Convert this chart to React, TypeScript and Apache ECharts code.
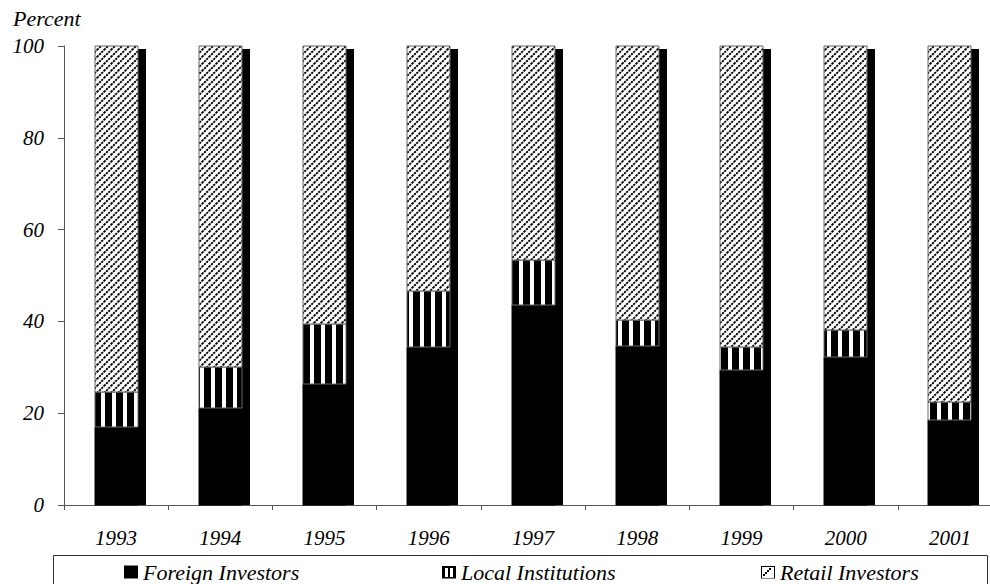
import React, { useEffect, useRef } from "react";
import * as echarts from "echarts";

const years = ["1993", "1994", "1995", "1996", "1997", "1998", "1999", "2000", "2001"];
const foreign = [17.0, 21.1, 26.4, 34.4, 43.6, 34.6, 29.4, 32.2, 18.5];
const local = [7.6, 9.0, 13.0, 12.3, 9.8, 5.7, 5.0, 5.9, 4.0];
const retail = [75.4, 69.9, 60.6, 53.3, 46.6, 59.7, 65.6, 61.9, 77.5];
const seriesNames = ["Foreign Investors", "Local Institutions", "Retail Investors"];

const FONT = '"Liberation Serif", "Times New Roman", serif';

const svgUrl = (s: string) => "data:image/svg+xml;charset=utf-8," + encodeURIComponent(s);

const HATCH = 7;
const hatchUrl = svgUrl(
  '<svg xmlns="http://www.w3.org/2000/svg" width="7" height="7">' +
    '<rect width="7" height="7" fill="#fff"/>' +
    '<g stroke="#000" stroke-width="1.9" stroke-dasharray="2.2 0.9">' +
    '<path d="M-1,8 L8,-1"/>' +
    '<path d="M-1,1 L1,-1"/>' +
    '<path d="M6,8 L8,6"/>' +
    "</g>" +
    "</svg>"
);
const stripeUrl = svgUrl(
  '<svg xmlns="http://www.w3.org/2000/svg" width="11" height="11" shape-rendering="crispEdges">' +
    '<rect width="11" height="11" fill="#000"/>' +
    '<rect x="2" y="0" width="4" height="11" fill="#fff"/>' +
    "</svg>"
);
const localIcon =
  "image://" +
  svgUrl(
    '<svg xmlns="http://www.w3.org/2000/svg" width="14" height="13" shape-rendering="crispEdges">' +
      '<rect width="14" height="13" fill="#000"/>' +
      '<rect x="3" y="2" width="3" height="9" fill="#fff"/>' +
      '<rect x="8" y="2" width="3" height="9" fill="#fff"/>' +
      "</svg>"
  );
const retailIcon =
  "image://" +
  svgUrl(
    '<svg xmlns="http://www.w3.org/2000/svg" width="14" height="13" shape-rendering="crispEdges">' +
      '<rect x="0.5" y="0.5" width="13" height="12" fill="#fff" stroke="#000"/>' +
      '<rect x="2" y="8" width="2" height="2" fill="#000"/>' +
      '<rect x="4" y="6" width="2" height="2" fill="#000"/>' +
      '<rect x="6" y="4" width="2" height="2" fill="#000"/>' +
      '<rect x="8" y="2" width="2" height="2" fill="#000"/>' +
      "</svg>"
  );

const BAR_RATIO = 43 / 104;
const SHADOW_DX = 8;
const SHADOW_DY = 3;

function makeFill(kind: string, x: number, y: number): any {
  if (kind === "solid") return "#000";
  if (kind === "hatch")
    return { image: hatchUrl, repeat: "repeat", imageWidth: HATCH, imageHeight: HATCH, x, y };
  return { image: stripeUrl, repeat: "repeat", imageWidth: 11, imageHeight: 11, x, y: 0 };
}

function segmentRender(kind: string) {
  return (params: any, api: any) => {
    const idx = api.value(0);
    const p0 = api.coord([idx, api.value(1)]);
    const p1 = api.coord([idx, api.value(2)]);
    const bandW = api.size([1, 0])[0];
    const w = Math.round(bandW * BAR_RATIO);
    const x = Math.round(p0[0] - w / 2);
    const yTop = Math.round(p1[1]);
    const yBot = Math.round(p0[1]);
    return {
      type: "rect",
      shape: { x, y: yTop, width: w, height: yBot - yTop },
      style: {
        fill: makeFill(kind, x, yTop),
        stroke: kind === "solid" ? "#000" : "#666",
        lineWidth: 1,
      },
    };
  };
}

function shadowRender(params: any, api: any) {
  const idx = api.value(0);
  const p0 = api.coord([idx, api.value(1)]);
  const p1 = api.coord([idx, api.value(2)]);
  const bandW = api.size([1, 0])[0];
  const w = Math.round(bandW * BAR_RATIO);
  const x = Math.round(p0[0] - w / 2) + w;
  const yTop = Math.round(p1[1]) + SHADOW_DY;
  const yBot = Math.round(p0[1]);
  return {
    type: "rect",
    shape: { x, y: yTop, width: SHADOW_DX, height: yBot - yTop },
    style: { fill: "#000" },
  };
}

export default function App() {
  const ref = useRef<HTMLDivElement>(null);
  useEffect(() => {
    if (!ref.current) return;
    const chart = echarts.init(ref.current, undefined, { renderer: "svg" });

    const foreignData = years.map((_, i) => [i, 0, foreign[i]]);
    const localData = years.map((_, i) => [i, foreign[i], foreign[i] + local[i]]);
    const retailData = years.map((_, i) => [
      i,
      foreign[i] + local[i],
      foreign[i] + local[i] + retail[i],
    ]);
    const totalData = years.map((_, i) => [i, 0, foreign[i] + local[i] + retail[i]]);

    const legendText = { fontFamily: FONT, fontStyle: "italic", fontSize: 22, color: "#000" };
    const legendBase = {
      top: 561,
      orient: "horizontal",
      itemWidth: 14,
      itemHeight: 13,
      padding: 0,
      selectedMode: false,
      textStyle: legendText,
    };

    chart.setOption({
      animation: false,
      backgroundColor: "#fff",
      grid: {
        left: 64,
        top: 46,
        width: 938,
        height: 459,
        containLabel: false,
        outerBoundsMode: "none",
      },
      xAxis: {
        type: "category",
        data: years,
        boundaryGap: true,
        axisLine: { lineStyle: { color: "#555", width: 1 } },
        axisTick: { show: true, interval: 0, length: 5, lineStyle: { color: "#555" } },
        axisLabel: {
          interval: 0,
          margin: 22,
          fontFamily: FONT,
          fontStyle: "italic",
          fontSize: 21,
          color: "#000",
        },
      },
      yAxis: {
        type: "value",
        min: 0,
        max: 100,
        interval: 20,
        splitLine: { show: false },
        axisLine: { show: true, lineStyle: { color: "#555", width: 1 } },
        axisTick: { show: true, length: 6, lineStyle: { color: "#555" } },
        axisLabel: {
          margin: 20,
          fontFamily: FONT,
          fontStyle: "italic",
          fontSize: 21,
          color: "#000",
        },
      },
      legend: [
        {
          ...legendBase,
          left: 124,
          data: [{ name: seriesNames[0], icon: "rect", itemStyle: { color: "#000" } }],
        },
        { ...legendBase, left: 442, data: [{ name: seriesNames[1], icon: localIcon }] },
        { ...legendBase, left: 761, data: [{ name: seriesNames[2], icon: retailIcon }] },
      ],
      graphic: [
        {
          type: "text",
          left: 13,
          top: 7,
          style: { text: "Percent", font: 'italic 22px "Liberation Serif"', fill: "#000" },
        },
        {
          type: "rect",
          shape: { x: 53.5, y: 555.5, width: 934, height: 40 },
          style: { fill: "none", stroke: "#333", lineWidth: 1 },
          silent: true,
        },
      ],
      series: [
        {
          type: "custom",
          name: "shadow",
          renderItem: shadowRender,
          encode: { x: 0, y: [1, 2] },
          data: totalData,
          silent: true,
        },
        {
          type: "custom",
          name: seriesNames[0],
          renderItem: segmentRender("solid"),
          encode: { x: 0, y: [1, 2] },
          data: foreignData,
          itemStyle: { color: "#000" },
        },
        {
          type: "custom",
          name: seriesNames[1],
          renderItem: segmentRender("stripe"),
          encode: { x: 0, y: [1, 2] },
          data: localData,
          itemStyle: { color: "#000" },
        },
        {
          type: "custom",
          name: seriesNames[2],
          renderItem: segmentRender("hatch"),
          encode: { x: 0, y: [1, 2] },
          data: retailData,
          itemStyle: { color: "#000" },
        },
      ],
    });
    return () => chart.dispose();
  }, []);

  return (
    <div
      ref={ref}
      style={{ position: "absolute", left: 0, top: 0, width: 990, height: 584, background: "#fff" }}
    />
  );
}
